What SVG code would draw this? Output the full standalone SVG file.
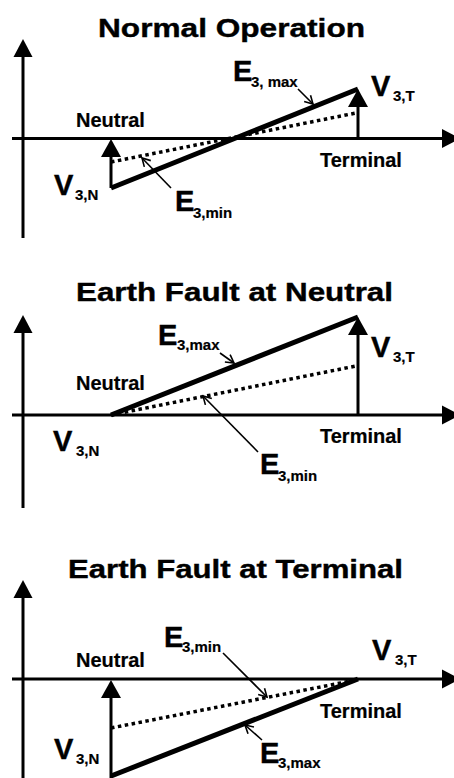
<svg xmlns="http://www.w3.org/2000/svg" width="454" height="778" viewBox="0 0 454 778">
<style>
text{font-family:"Liberation Sans",Arial,sans-serif;font-weight:bold;fill:#000}
.title{font-size:26px;stroke:#000;stroke-width:0.4}
.lbl{font-size:20px;stroke:#000;stroke-width:0.2}
.big{font-size:29px;stroke:#000;stroke-width:0.4}
.sub{font-size:15px;stroke:#000;stroke-width:0.2}
.axis{stroke:#000;stroke-width:3;fill:none}
.solid{stroke:#000;stroke-width:5;fill:none;stroke-linecap:butt}
.dot{stroke:#000;stroke-width:3.5;fill:none;stroke-dasharray:3.5 3.5}
.ptr{stroke:#000;stroke-width:1.6;fill:none}
.head{fill:#000;stroke:none}
</style>
<defs>
<marker id="open" markerUnits="userSpaceOnUse" markerWidth="12" markerHeight="12" refX="9" refY="5" orient="auto">
<path d="M1,0.5 L9,5 L1,9.5" fill="none" stroke="#000" stroke-width="1.6"/>
</marker>
</defs>
<rect width="454" height="778" fill="#fff"/>

<g id="panel1">
<text class="title" x="231.5" y="37" text-anchor="middle" textLength="267" lengthAdjust="spacingAndGlyphs">Normal Operation</text>
<line class="axis" x1="23" y1="238" x2="23" y2="55"/>
<polygon class="head" points="23,39 13.5,57 32.5,57"/>
<line class="axis" x1="12" y1="138.5" x2="444" y2="138.5"/>
<polygon class="head" points="460,138.5 442,129 442,148"/>
<line class="solid" x1="111" y1="188" x2="358" y2="89"/>
<line class="dot" x1="111" y1="162" x2="356" y2="113"/>
<line class="axis" x1="111" y1="188" x2="111" y2="154"/>
<polygon class="head" points="111,139 101,157 121,157"/>
<line class="axis" x1="358" y1="138.5" x2="358" y2="105"/>
<polygon class="head" points="358,89 348,107 368,107"/>
<text class="lbl" x="76" y="127">Neutral</text>
<text class="lbl" x="320" y="167">Terminal</text>
<text class="big" x="54" y="195">V</text><text class="sub" x="75" y="200">3,N</text>
<text class="big" x="371" y="96">V</text><text class="sub" x="393" y="101">3,T</text>
<text class="big" x="233" y="81">E</text><text class="sub" x="251" y="87">3, max</text>
<text class="big" x="175" y="211">E</text><text class="sub" x="193" y="218">3,min</text>
</g>

<g id="panel2">
<text class="title" x="234.5" y="301" text-anchor="middle" textLength="317" lengthAdjust="spacingAndGlyphs">Earth Fault at Neutral</text>
<line class="axis" x1="23" y1="508" x2="23" y2="331"/>
<polygon class="head" points="23,315 13.5,333 32.5,333"/>
<line class="axis" x1="12" y1="415" x2="444" y2="415"/>
<polygon class="head" points="460,415 442,405.5 442,424.5"/>
<line class="solid" x1="111" y1="415" x2="358" y2="317"/>
<line class="dot" x1="111" y1="415" x2="356" y2="366"/>
<line class="axis" x1="358" y1="415" x2="358" y2="333"/>
<polygon class="head" points="358,317 348,335 368,335"/>
<text class="lbl" x="76" y="390">Neutral</text>
<text class="lbl" x="320" y="443">Terminal</text>
<text class="big" x="53" y="451">V</text><text class="sub" x="76" y="456">3,N</text>
<text class="big" x="371" y="357">V</text><text class="sub" x="393" y="362">3,T</text>
<text class="big" x="158" y="345">E</text><text class="sub" x="177" y="350">3,max</text>
<text class="big" x="260" y="474">E</text><text class="sub" x="278" y="481">3,min</text>
</g>

<g id="panel3">
<text class="title" x="235.5" y="578" text-anchor="middle" textLength="335" lengthAdjust="spacingAndGlyphs">Earth Fault at Terminal</text>
<line class="axis" x1="23" y1="778" x2="23" y2="596"/>
<polygon class="head" points="23,580 13.5,598 32.5,598"/>
<line class="axis" x1="12" y1="679" x2="444" y2="679"/>
<polygon class="head" points="460,679 442,669.5 442,688.5"/>
<line class="solid" x1="111" y1="776" x2="358" y2="679"/>
<line class="dot" x1="111" y1="728" x2="356" y2="680"/>
<line class="axis" x1="111" y1="778" x2="111" y2="696"/>
<polygon class="head" points="111,680 101,698 121,698"/>
<text class="lbl" x="76" y="667">Neutral</text>
<text class="lbl" x="320" y="718">Terminal</text>
<text class="big" x="54" y="759">V</text><text class="sub" x="76" y="764">3,N</text>
<text class="big" x="372" y="660">V</text><text class="sub" x="395" y="665">3,T</text>
<text class="big" x="164" y="647">E</text><text class="sub" x="182" y="652">3,min</text>
<text class="big" x="260" y="763">E</text><text class="sub" x="278" y="768">3,max</text>
</g>

<g id="connectors">
<line class="ptr" x1="298" y1="89" x2="313" y2="104" marker-end="url(#open)"/>
<line class="ptr" x1="171" y1="188" x2="142" y2="158" marker-end="url(#open)"/>
<line class="ptr" x1="220" y1="353" x2="234" y2="363" marker-end="url(#open)"/>
<line class="ptr" x1="258" y1="452" x2="203" y2="396" marker-end="url(#open)"/>
<line class="ptr" x1="223" y1="653" x2="267" y2="697" marker-end="url(#open)"/>
<line class="ptr" x1="262" y1="740" x2="245" y2="725" marker-end="url(#open)"/>
</g>
</svg>
